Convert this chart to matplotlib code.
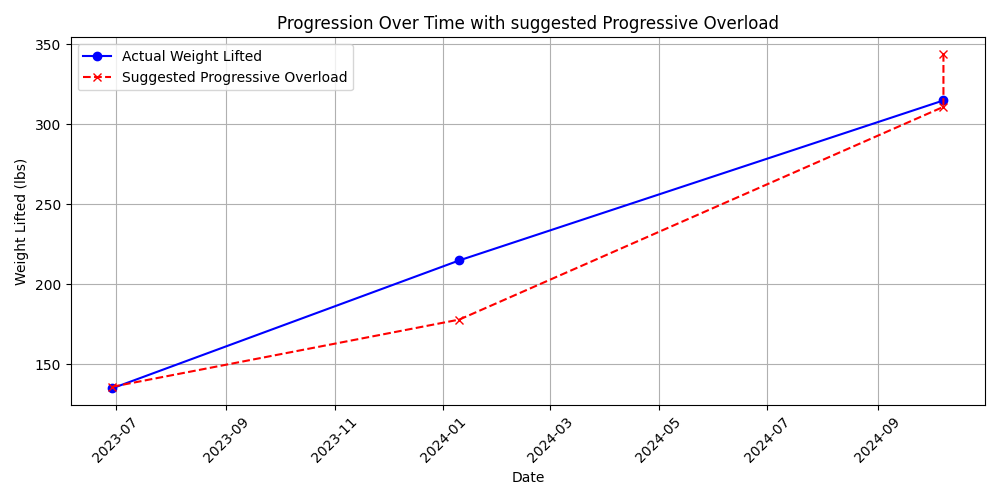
import matplotlib
matplotlib.use('Agg')
import matplotlib.pyplot as plt
import numpy as np

actual_dates = np.array(['2023-06-29', '2024-01-10', '2024-10-08'], dtype='datetime64[D]')
actual_weights = [135, 215, 315]

suggested_dates = np.array(['2023-06-29', '2024-01-10', '2024-10-08', '2024-10-08'], dtype='datetime64[D]')
suggested_weights = [136, 178, 311, 344]

fig, ax = plt.subplots(figsize=(10, 5), dpi=100)
ax.plot(actual_dates, actual_weights, 'o-', color='blue', label='Actual Weight Lifted')
ax.plot(suggested_dates, suggested_weights, 'x--', color='red', label='Suggested Progressive Overload')
ax.set_title('Progression Over Time with suggested Progressive Overload')
ax.set_xlabel('Date')
ax.set_ylabel('Weight Lifted (lbs)')
ax.legend(loc='upper left')
ax.grid(True)
plt.xticks(rotation=45)
plt.tight_layout()
plt.savefig('out.png')
